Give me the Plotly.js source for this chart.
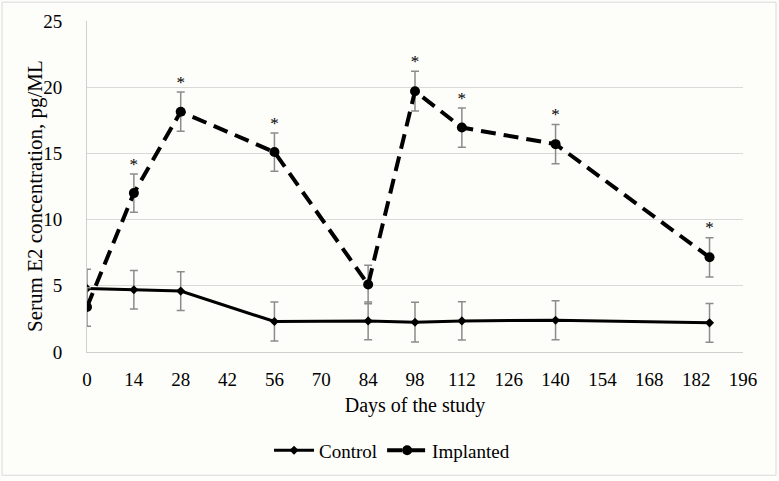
<!DOCTYPE html>
<html>
<head>
<meta charset="utf-8">
<script src="https://cdn.plot.ly/plotly-3.0.1.min.js"></script>
<style>
html,body{margin:0;padding:0;background:#fdfdfa;}
#chart{width:779px;height:481px;}
</style>
</head>
<body>
<div id="chart"></div>
<script>
const days = [0, 14, 28, 56, 84, 98, 112, 140, 186];
const control = [4.8, 4.7, 4.6, 2.3, 2.35, 2.25, 2.35, 2.4, 2.2];
const controlErr = [1.45, 1.45, 1.47, 1.47, 1.42, 1.5, 1.45, 1.47, 1.47];
const implanted = [3.4, 12.0, 18.15, 15.1, 5.1, 19.7, 16.95, 15.7, 7.15];
const implantedErr = [1.45, 1.45, 1.48, 1.45, 1.45, 1.5, 1.48, 1.48, 1.48];
const significant = [false, true, true, true, false, true, true, true, true];
const xTicks = [0, 14, 28, 42, 56, 70, 84, 98, 112, 126, 140, 154, 168, 182, 196];
const yTicks = [0, 5, 10, 15, 20, 25];

const starX = days.filter((d, i) => significant[i]);
const starY = implanted.map((v, i) => v + implantedErr[i]).filter((v, i) => significant[i]);

const FAM = 'Liberation Serif';
function f(size) { return {family: FAM, size: size, color: '#000000'}; }

const traces = [
  {
    x: days, y: control, name: 'Control', type: 'scatter', mode: 'lines+markers',
    line: {color: '#000', width: 3},
    marker: {symbol: 'diamond', size: 7, color: '#000'},
    error_y: {type: 'data', array: controlErr, visible: true, color: '#8c8c8c', thickness: 1.5, width: 4}
  },
  {
    x: days, y: implanted, name: 'Implanted', type: 'scatter', mode: 'lines+markers',
    line: {color: '#000', width: 4, dash: '15px,8px'},
    marker: {symbol: 'circle', size: 10, color: '#000'},
    error_y: {type: 'data', array: implantedErr, visible: true, color: '#8c8c8c', thickness: 1.5, width: 4}
  },
  {
    x: starX, y: starY, type: 'scatter', mode: 'text', text: starX.map(() => '*'),
    textposition: 'top center', textfont: f(17),
    showlegend: false, hoverinfo: 'skip'
  }
];

const layout = {
  width: 779, height: 481,
  margin: {l: 87, r: 36, t: 21, b: 127},
  paper_bgcolor: '#fdfdfa', plot_bgcolor: '#fdfdfa',
  font: f(19),
  showlegend: true,
  legend: {orientation: 'h', x: 0.465, xanchor: 'center', y: -0.24, yanchor: 'top',
    font: f(19), bgcolor: 'rgba(0,0,0,0)', itemwidth: 40},
  xaxis: {
    range: [0, 196], tickmode: 'array', tickvals: xTicks, ticktext: xTicks.map(String),
    showgrid: false, zeroline: false, showline: true, linecolor: '#d0d0d0', linewidth: 1,
    ticks: '', ticklabelstandoff: 10,
    tickfont: f(19),
    title: {text: 'Days of the study', font: f(20), standoff: 9}
  },
  yaxis: {
    range: [0, 25], tickmode: 'array', tickvals: yTicks, ticktext: yTicks.map(String),
    showgrid: true, gridcolor: '#d9d9d9', gridwidth: 1, zeroline: false,
    showline: true, linecolor: '#d0d0d0', linewidth: 1,
    ticks: '', ticklabelstandoff: 20,
    tickfont: f(19)
  },
  annotations: [{
    text: 'Serum E2 concentration, pg/ML', textangle: -90, showarrow: false,
    xref: 'paper', yref: 'paper', x: (35 - 87) / 656, y: (354 - 197) / 333,
    xanchor: 'center', yanchor: 'middle', font: f(21)
  }],
  shapes: [{
    type: 'rect', xref: 'paper', yref: 'paper',
    x0: (2 - 87) / 656, x1: (776 - 87) / 656, y0: (354 - 478) / 333, y1: (354 - 2) / 333,
    line: {color: '#d9d9d9', width: 1}, fillcolor: 'rgba(0,0,0,0)', layer: 'below'
  }]
};

Plotly.newPlot('chart', traces, layout, {displayModeBar: false, staticPlot: true});
</script>
</body>
</html>
